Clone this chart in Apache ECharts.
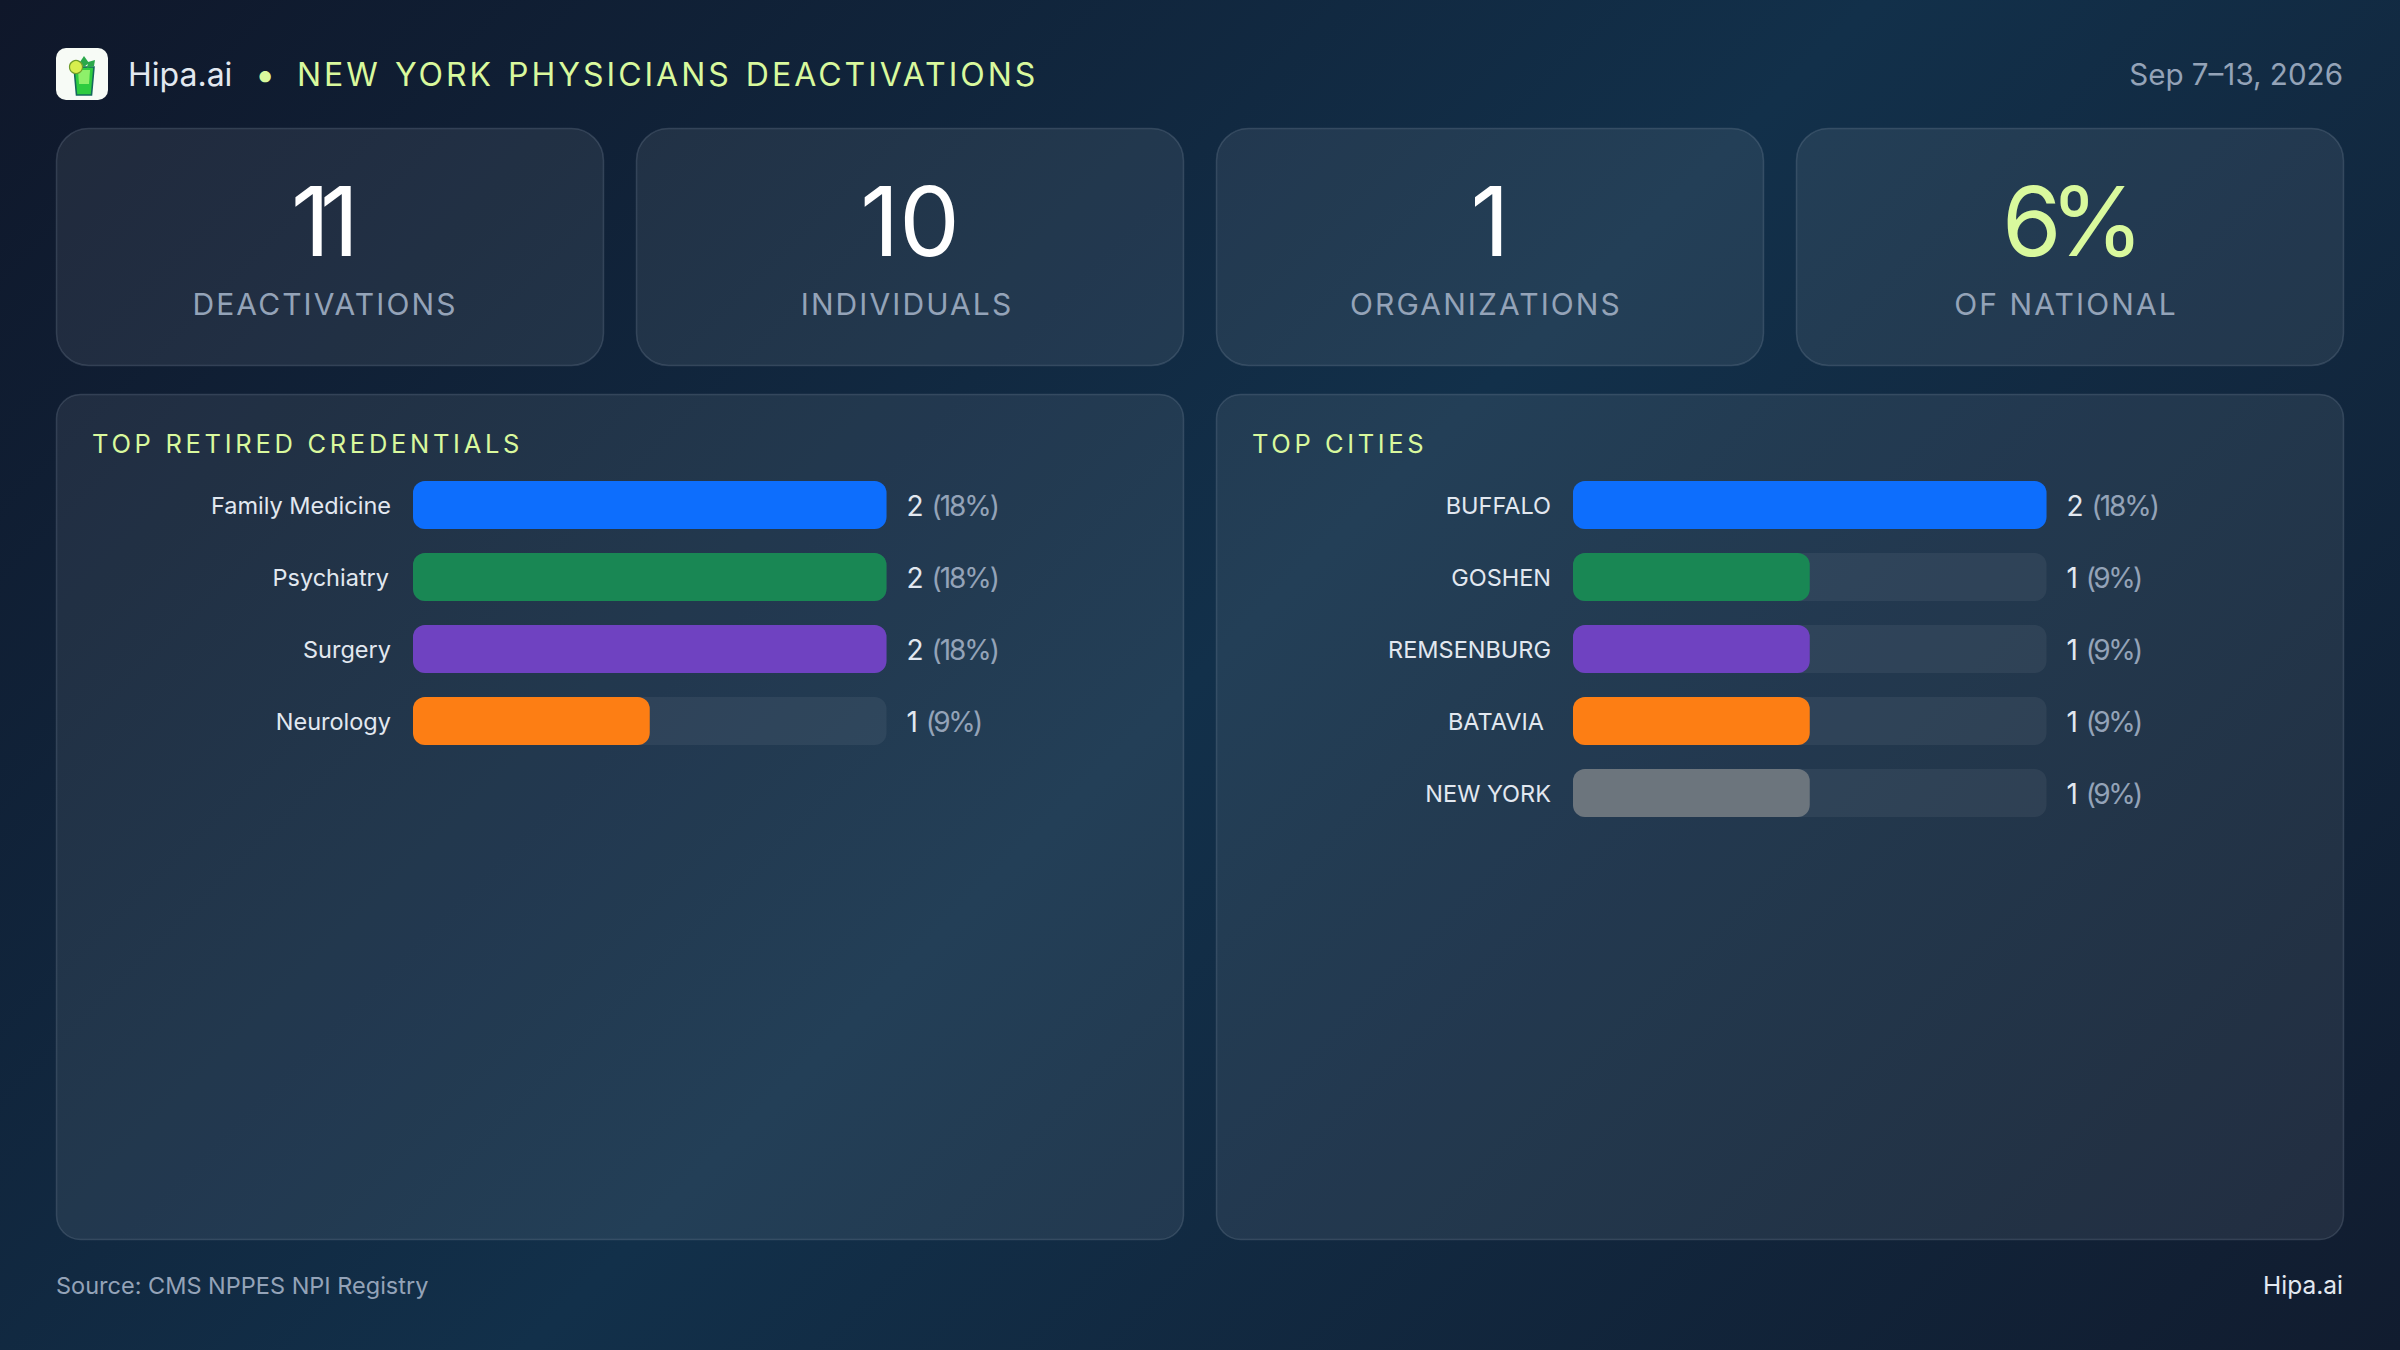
<!DOCTYPE html>
<html><head><meta charset="utf-8">
<style>html,body{margin:0;padding:0;background:#10213a}#c{width:2400px;height:1350px}</style>
<script src="https://cdn.jsdelivr.net/npm/echarts@6/dist/echarts.min.js"></script>
</head><body><div id="c"></div>
<script>
const brand = 'Hipa.ai';
const sep = '•';
const headline = 'NEW YORK PHYSICIANS DEACTIVATIONS';
const dateRange = 'Sep 7–13, 2026';
const kpiValues = ['11', '10', '1', '6%'];
const kpiLabels = ['DEACTIVATIONS', 'INDIVIDUALS', 'ORGANIZATIONS', 'OF NATIONAL'];
const credentialTitle = 'TOP RETIRED CREDENTIALS';
const credentials = ['Family Medicine', 'Psychiatry', 'Surgery', 'Neurology'];
const credentialCounts = [2, 2, 2, 1];
const credentialShares = ['18%', '18%', '18%', '9%'];
const cityTitle = 'TOP CITIES';
const cities = ['BUFFALO', 'GOSHEN', 'REMSENBURG', 'BATAVIA', 'NEW YORK'];
const cityCounts = [2, 1, 1, 1, 1];
const cityShares = ['18%', '9%', '9%', '9%', '9%'];
const source = 'Source: CMS NPPES NPI Registry';
const palette = ['#0d6efd', '#198754', '#6f42c1', '#fd7e14', '#6c757d'];

const FONT = 'Inter';
const LIME = '#d9f99d', MUTED = '#94a3b8', SOFT = '#e2e8f0';
const spacing = {'11': -10, '6%': -12, '(18%)': -2, '(9%)': -2.6};
spacing[headline] = 3.0; spacing[credentialTitle] = 3.7; spacing[cityTitle] = 3.6;
kpiLabels.forEach(t => spacing[t] = 2.1);
const shiftX = {BATAVIA: -7, Psychiatry: -2};

const chart = echarts.init(document.getElementById('c'), null, {renderer: 'svg', width: 2400, height: 1350});

function txt(text, x, y, size, fill, align, weight) {
  return {type: 'text', z: -1, silent: true, style: {text, x, y, fontSize: size, fontFamily: FONT, fontWeight: weight || 400,
    fill, textAlign: align || 'left', textVerticalAlign: 'middle'}};
}
function box(x, y, w, h, r) {
  return {type: 'rect', z: -5, silent: true, shape: {x: x + .5, y: y + .5, width: w, height: h, r},
    style: {fill: 'rgba(255,255,255,0.075)', stroke: 'rgba(148,163,184,0.22)', lineWidth: 1.5}};
}
const g = [];
const cardX = [56, 636, 1216, 1796];
const numX = [320, 910, 1490, 2067];
const labX = [325, 907, 1486, 2066];
cardX.forEach((x, i) => {
  g.push(box(x, 128, 547, 237, 32));
  g.push(txt(kpiValues[i], numX[i], 221, 96, i === 3 ? LIME : '#ffffff', 'center'));
  g.push(txt(kpiLabels[i], labX[i], 304, 30, MUTED, 'center'));
});
g.push(box(56, 394, 1127, 845, 24), box(1216, 394, 1127, 845, 24));
g.push(txt(credentialTitle, 92, 443.5, 25.5, LIME), txt(cityTitle, 1252, 443.5, 25.5, LIME));
g.push(txt(brand, 128, 74, 32, SOFT), txt(sep, 265, 74, 36, LIME, 'center'), txt(headline, 297, 74, 32, LIME));
g.push(txt(dateRange, 2343, 74, 29.6, MUTED, 'right'));
g.push(txt(source, 56, 1285, 23.5, MUTED), txt(brand, 2343, 1285, 24.5, SOFT, 'right'));
g.push({type: 'rect', z: -4, silent: true, shape: {x: 56, y: 48, width: 52, height: 52, r: 10}, style: {fill: '#f7fbf6'}});
g.push({type: 'polygon', z: -3, silent: true, shape: {points: [[74, 67], [94, 67], [91.5, 95], [76.5, 95]]}, style: {fill: '#2ecc40', stroke: '#14685c', lineWidth: 1.6}});
g.push({type: 'polygon', z: -3, silent: true, shape: {points: [[78, 70], [90, 70], [89, 84], [79, 84]]}, style: {fill: '#8ef06a'}});
g.push({type: 'polygon', z: -3, silent: true, shape: {points: [[84, 56], [89, 63], [84, 67], [80, 62]]}, style: {fill: '#2aa84a'}});
g.push({type: 'polygon', z: -3, silent: true, shape: {points: [[95, 60], [94, 66], [87, 68], [88, 62]]}, style: {fill: '#2aa84a'}});
g.push({type: 'circle', z: -3, silent: true, shape: {cx: 76, cy: 67, r: 6.5}, style: {fill: '#d8ee4e', stroke: '#6f9c2a', lineWidth: 1.2}});

const grids = [
  {left: 413, top: 469, width: 473.5, height: 72 * credentials.length},
  {left: 1573, top: 469, width: 473.5, height: 72 * cities.length}
];
function valueLabel(counts, shares) {
  return (v, i) => `{v|${counts[i]}} {p|(${shares[i]})}`;
}
const rich = {v: {color: SOFT, fontSize: 28, fontFamily: FONT}, p: {color: MUTED, fontSize: 28, fontFamily: FONT}};
function yPair(cats, counts, shares, gridIndex) {
  return [
    {type: 'category', gridIndex, data: cats, inverse: true, axisLine: {show: false}, axisTick: {show: false},
      axisLabel: {color: SOFT, fontSize: 23.5, fontFamily: FONT, margin: 22}},
    {type: 'category', gridIndex, position: 'right', data: cats, inverse: true, axisLine: {show: false}, axisTick: {show: false},
      axisLabel: {margin: 20, fontSize: 28, fontFamily: FONT, align: 'left', color: MUTED, padding: [2, 0, 0, 0], rich, formatter: valueLabel(counts, shares)}}
  ];
}
function barSeries(name, values, xi, yi) {
  return {type: 'bar', name, xAxisIndex: xi, yAxisIndex: yi, barWidth: 48, data: values, showBackground: true,
    backgroundStyle: {color: 'rgba(255,255,255,0.06)', borderRadius: 12},
    itemStyle: {borderRadius: 12, color: p => palette[p.dataIndex % palette.length]}, silent: true};
}
chart.setOption({
  animation: false,
  backgroundColor: new echarts.graphic.LinearGradient(263, -262, 2137, 1612, [
    {offset: 0, color: '#0f172a'}, {offset: .5, color: '#12304a'}, {offset: 1, color: '#111c2f'}], true),
  graphic: {elements: g},
  grid: grids,
  xAxis: [0, 1].map(gridIndex => ({type: 'value', gridIndex, min: 0, max: 2, show: false})),
  yAxis: [...yPair(credentials, credentialCounts, credentialShares, 0), ...yPair(cities, cityCounts, cityShares, 1)],
  series: [barSeries('Credentials', credentialCounts, 0, 0), barSeries('Cities', cityCounts, 1, 2)]
});
function applySpacing() {
  document.querySelectorAll('#c text').forEach(t => {
    const c = t.textContent, s = spacing[c];
    if (s) t.setAttribute('letter-spacing', s);
    if (c === headline) t.setAttribute('word-spacing', 2);
    if (shiftX[c]) t.setAttribute('dx', shiftX[c]);
  });
}
chart.on('finished', applySpacing);
applySpacing();
</script></body></html>
